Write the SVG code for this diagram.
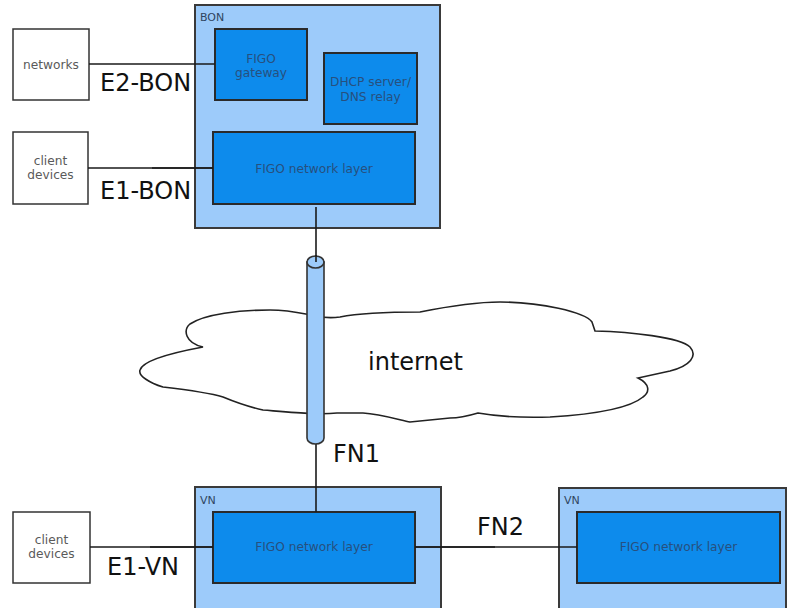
<svg xmlns="http://www.w3.org/2000/svg" width="793" height="608" viewBox="0 0 793 608">
  <style>
    .bg { fill: #ffffff; }
    .ext { fill: #ffffff; stroke: #333333; stroke-width: 1.5; }
    .outer { fill: #9dcbfa; stroke: #3a3a3a; stroke-width: 2; }
    .inner { fill: #0d8bec; stroke: #2a2a2a; stroke-width: 2; }
    .wire { stroke: #1a1a1a; stroke-width: 1.6; fill: none; }
    .cloud { fill: #ffffff; stroke: #222222; stroke-width: 1.6; }
    .pipe { fill: #9dcbfa; stroke: #333333; stroke-width: 1.6; }
    .small { font-family: "DejaVu Sans", "Liberation Sans", sans-serif; font-size: 12.2px; text-anchor: middle; }
    .ext-t { fill: #5a5a5a; }
    .in-t { fill: #27507e; }
    .tag { font-family: "DejaVu Sans", "Liberation Sans", sans-serif; font-size: 11px; fill: #2f4560; }
    .big { font-family: "DejaVu Sans", "Liberation Sans", sans-serif; font-size: 24px; fill: #111111; }
  </style>

  <rect class="bg" x="0" y="0" width="793" height="608"/>

  <!-- internet cloud -->
  <g id="internet">
    <path class="cloud" d="M203,347 C185,343 183,330 190,324 C205,314 240,310 270,310 C290,310 300,313 316,316 C325,318 332,318 340,317 C360,313 390,312 420,312 C440,308 470,302 500,302 C540,302 585,312 592,322 L595,331 C630,332 680,337 690,347 C698,356 690,366 670,371 L638,378 C650,384 650,392 643,397 C630,408 600,414 550,417 C520,418 495,416 478,413 C468,416 460,418 450,418 L410,422 C400,420 380,414 363,413 L337,413 C320,415 300,413 263,410 C245,406 235,402 223,397 C210,393 180,389 163,387 C150,383 138,376 140,370 C142,363 160,355 203,347 Z"/>
    <text class="big" x="368" y="370" font-size="25">internet</text>
  </g>

  <!-- external endpoints -->
  <g id="networks">
    <rect class="ext" x="13" y="29" width="76" height="71"/>
    <text class="small ext-t" x="51" y="69">networks</text>
  </g>
  <g id="client-bon">
    <rect class="ext" x="13" y="132" width="75" height="72"/>
    <text class="small ext-t" x="50.5" y="165">client</text>
    <text class="small ext-t" x="50.5" y="179">devices</text>
  </g>
  <g id="client-vn">
    <rect class="ext" x="13" y="512" width="77" height="71"/>
    <text class="small ext-t" x="51.5" y="544">client</text>
    <text class="small ext-t" x="51.5" y="558">devices</text>
  </g>

  <!-- BON -->
  <g id="bon">
    <rect class="outer" x="195" y="5" width="245" height="223"/>
    <text class="tag" x="200" y="21">BON</text>
    <g id="figo-gateway">
      <rect class="inner" x="215" y="29" width="92" height="71"/>
      <text class="small in-t" x="261" y="63">FIGO</text>
      <text class="small in-t" x="261" y="77">gateway</text>
    </g>
    <g id="dhcp">
      <rect class="inner" x="324" y="53" width="93" height="71"/>
      <text class="small in-t" x="370.5" y="86">DHCP server/</text>
      <text class="small in-t" x="370.5" y="101">DNS relay</text>
    </g>
    <g id="bon-network-layer">
      <rect class="inner" x="213" y="132" width="202" height="72"/>
      <text class="small in-t" x="314" y="173">FIGO network layer</text>
    </g>
  </g>

  <!-- VN left -->
  <g id="vn1">
    <rect class="outer" x="195" y="487" width="246" height="122"/>
    <text class="tag" x="200" y="504">VN</text>
    <g id="vn1-network-layer">
      <rect class="inner" x="213" y="512" width="202" height="71"/>
      <text class="small in-t" x="314" y="551">FIGO network layer</text>
    </g>
  </g>

  <!-- VN right -->
  <g id="vn2">
    <rect class="outer" x="559" y="488" width="227" height="121"/>
    <text class="tag" x="564" y="504">VN</text>
    <g id="vn2-network-layer">
      <rect class="inner" x="577" y="512" width="203" height="71"/>
      <text class="small in-t" x="678.5" y="551">FIGO network layer</text>
    </g>
  </g>

  <!-- connectors -->
  <g id="connectors">
    <line class="wire" x1="89" y1="64" x2="215" y2="64"/>
    <line class="wire" x1="88" y1="168" x2="213" y2="168"/>
    <line class="wire" x1="152" y1="168" x2="213" y2="168" stroke-width="2"/>
    <line class="wire" x1="90" y1="547" x2="213" y2="547"/>
    <line class="wire" x1="150" y1="547" x2="213" y2="547" stroke-width="2"/>
    <line class="wire" x1="415" y1="547" x2="577" y2="547"/>
    <line class="wire" x1="415" y1="547" x2="495" y2="547" stroke-width="2"/>
    <line class="wire" x1="316" y1="207" x2="316" y2="262"/>
    <line class="wire" x1="316" y1="444" x2="316" y2="512"/>
  </g>

  <!-- FN1 tunnel through the internet -->
  <g id="fn1-tunnel">
    <path class="pipe" d="M307,262 L307,438 A8.5,6 0 0 0 324,438 L324,262 Z"/>
    <ellipse class="pipe" cx="315.5" cy="262" rx="8.5" ry="6" fill="#b4d8fb"/>
    <line class="wire" x1="316" y1="255" x2="316" y2="262"/>
  </g>

  <!-- link labels -->
  <g id="labels">
    <text class="big" x="100" y="91">E2-BON</text>
    <text class="big" x="100" y="199">E1-BON</text>
    <text class="big" x="107" y="575">E1-VN</text>
    <text class="big" x="333" y="462">FN1</text>
    <text class="big" x="477" y="535">FN2</text>
  </g>
</svg>
